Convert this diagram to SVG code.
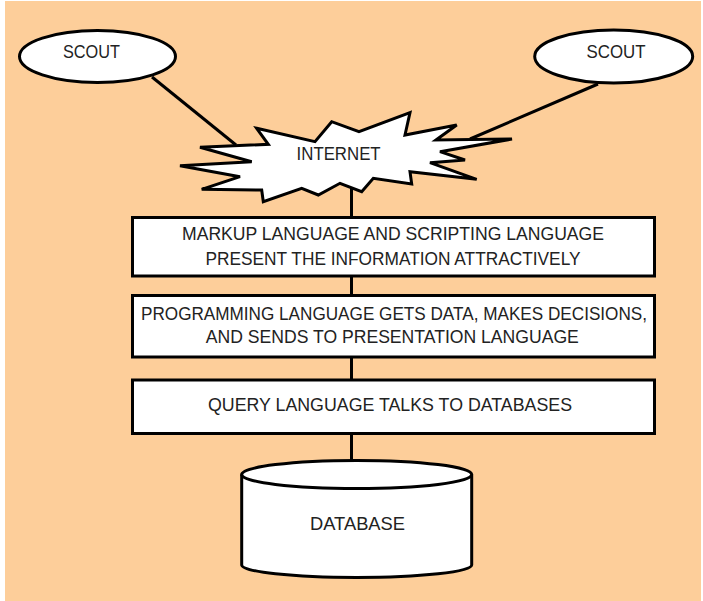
<svg xmlns="http://www.w3.org/2000/svg" width="703" height="601" viewBox="0 0 703 601">
<style>
.shape{fill:#fff;stroke:#000;stroke-width:3;stroke-linejoin:miter}
.conn{stroke:#000;stroke-width:3;fill:none}
.t{font-family:"Liberation Sans",Arial,sans-serif;font-size:18px;fill:#222;text-anchor:middle}
</style>
<rect x="0" y="0" width="703" height="601" fill="#fff"/>
<rect x="5" y="1" width="696" height="600" fill="#FDCE9A"/>
<g id="connectors">
<line class="conn" x1="152" y1="77" x2="236" y2="145"/>
<line class="conn" x1="598" y1="84" x2="470" y2="139"/>
<line class="conn" x1="351.5" y1="185" x2="351.5" y2="463"/>
</g>
<g id="scout-left">
<ellipse class="shape" cx="97.5" cy="56.5" rx="78" ry="26"/>
<text class="t" x="91.5" y="58" textLength="57" lengthAdjust="spacingAndGlyphs">SCOUT</text>
</g>
<g id="scout-right">
<ellipse class="shape" cx="613.7" cy="56.5" rx="79" ry="26.5"/>
<text class="t" x="616" y="58" textLength="59" lengthAdjust="spacingAndGlyphs">SCOUT</text>
</g>
<g id="internet">
<polygon class="shape" points="256.7,128.3 315,141.7 331.7,121.7 359,131.7 410,112.7 405,135 456.7,125 436,140 512,139 440,151.7 465,160 430,162.7 476.7,179.3 410,171.7 411.7,184 373.3,178.3 361.7,191.7 340,183.3 318.3,195 301.7,188.3 263.3,201.7 261.7,190 201.7,189.3 240,176.7 180,165.7 251.7,161.7 200,147.3 268.3,144.3"/>
<text class="t" x="338.6" y="159.8" textLength="84" lengthAdjust="spacingAndGlyphs">INTERNET</text>
</g>
<g id="presentation">
<rect class="shape" x="132.5" y="217.5" width="522" height="58.5"/>
<text class="t" x="393" y="240" textLength="422" lengthAdjust="spacingAndGlyphs">MARKUP LANGUAGE AND SCRIPTING LANGUAGE</text>
<text class="t" x="393" y="265" textLength="375" lengthAdjust="spacingAndGlyphs">PRESENT THE INFORMATION ATTRACTIVELY</text>
</g>
<g id="programming">
<rect class="shape" x="132.5" y="295.5" width="522" height="61.5"/>
<text class="t" x="394" y="320" textLength="506" lengthAdjust="spacingAndGlyphs">PROGRAMMING LANGUAGE GETS DATA, MAKES DECISIONS,</text>
<text class="t" x="392.3" y="343.3" textLength="373" lengthAdjust="spacingAndGlyphs">AND SENDS TO PRESENTATION LANGUAGE</text>
</g>
<g id="query">
<rect class="shape" x="132.5" y="380" width="522" height="53.5"/>
<text class="t" x="390" y="410.5" textLength="364" lengthAdjust="spacingAndGlyphs">QUERY LANGUAGE TALKS TO DATABASES</text>
</g>
<g id="database">
<path class="shape" d="M241.7,474.5 L241.7,565 A115,12.5 0 0 0 471.7,565 L471.7,474.5"/>
<ellipse class="shape" cx="356.7" cy="474.5" rx="115" ry="14"/>
<text class="t" x="357.5" y="530" textLength="95" lengthAdjust="spacingAndGlyphs">DATABASE</text>
</g>
</svg>
